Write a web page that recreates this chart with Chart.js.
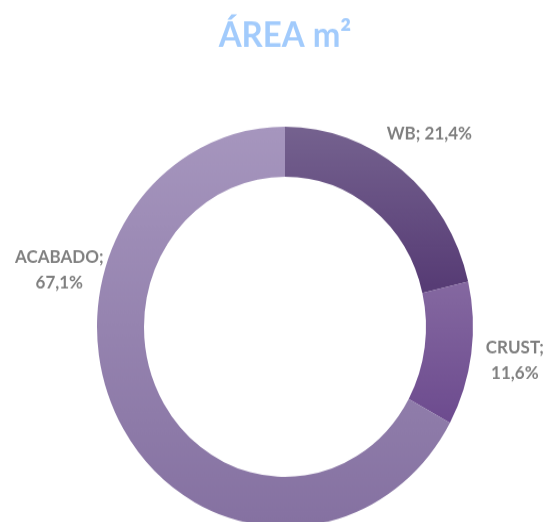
<!DOCTYPE html>
<html>
<head>
<meta charset="utf-8">
<script src="https://cdn.jsdelivr.net/npm/chart.js@4.4.1/dist/chart.umd.min.js"></script>
<style>
  html, body { margin: 0; padding: 0; background: #ffffff; overflow: hidden; width: 549px; height: 522px; }
  #wrap { position: absolute; left: 0; top: 0; width: 549px; height: 495px; transform: scaleY(1.0645); transform-origin: 0 0; }
  canvas { display: block; }
</style>
</head>
<body>
<div id="wrap"><canvas id="c" width="549" height="495"></canvas></div>
<script>
// ---- data ----
const categories = ['WB', 'CRUST', 'ACABADO'];
const values = [21.4, 11.6, 67.1];
const chartTitle = 'ÁREA m²';

// ---- styles ----
const gradientStops = [
  [[0, '#75628f'], [0.40, '#573c75']],
  [[0.38, '#8569a1'], [0.75, '#6c4a8e']],
  [[0, '#a696be'], [1, '#8571a1']]
];

function sliceFill(context) {
  const chart = context.chart;
  const area = chart.chartArea;
  if (!area) return '#8f7caa';
  const stops = gradientStops[context.dataIndex];
  const g = chart.ctx.createLinearGradient(0, area.top, 0, area.bottom);
  stops.forEach(s => g.addColorStop(s[0], s[1]));
  return g;
}

const labelPlugin = {
  id: 'sliceLabels',
  afterDatasetsDraw(chart, args, opts) {
    const ctx = chart.ctx;
    const meta = chart.getDatasetMeta(0);
    const data = chart.data.datasets[0].data;
    meta.data.forEach((arc, i) => {
      const p = arc.getProps(['x', 'y', 'startAngle', 'endAngle', 'outerRadius'], true);
      const mid = (p.startAngle + p.endAngle) / 2 + (opts.angleShift[i] || 0);
      const r = p.outerRadius + opts.distance;
      const cx = p.x + Math.cos(mid) * r;
      const cy = p.y + Math.sin(mid) * r;
      const name = chart.data.labels[i] + ';';
      const pct = data[i].toFixed(1).replace('.', ',') + '%';
      const lines = opts.wrap[i] ? [name, pct] : [name + ' ' + pct];
      ctx.save();
      ctx.font = opts.font;
      ctx.fillStyle = opts.color;
      ctx.textAlign = 'center';
      ctx.textBaseline = 'middle';
      lines.forEach((l, k) => {
        ctx.fillText(l, cx, cy + (k - (lines.length - 1) / 2) * opts.lineHeight);
      });
      ctx.restore();
    });
  }
};

new Chart(document.getElementById('c'), {
  type: 'doughnut',
  data: {
    labels: categories,
    datasets: [{
      data: values,
      backgroundColor: sliceFill,
      borderWidth: 0,
      hoverOffset: 0
    }]
  },
  options: {
    responsive: false,
    animation: false,
    cutout: '75%',
    layout: { padding: { left: 97, right: 76, top: 0, bottom: 0 } },
    plugins: {
      legend: { display: false },
      tooltip: { enabled: false },
      title: {
        display: true,
        text: chartTitle,
        color: '#a2cbfc',
        font: { family: 'Lato', size: 33, weight: 'bold', lineHeight: 1.2 },
        padding: { top: 13.6, bottom: 65.8 }
      },
      sliceLabels: {
        font: 'bold 17px Lato',
        color: '#7f7f7f',
        lineHeight: 24,
        distance: 44,
        wrap: [false, true, true],
        angleShift: [0, 0, 0.768]
      }
    }
  },
  plugins: [labelPlugin]
});
</script>
</body>
</html>
